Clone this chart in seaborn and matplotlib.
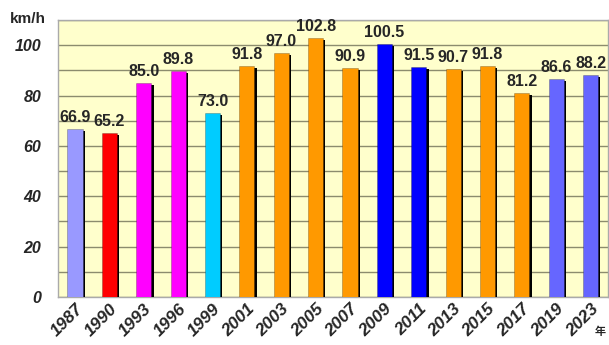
import matplotlib
matplotlib.use("Agg")
import matplotlib.pyplot as plt
import matplotlib.patheffects as pe
import seaborn as sns

years = ["1987", "1990", "1993", "1996", "1999", "2001", "2003", "2005",
         "2007", "2009", "2011", "2013", "2015", "2017", "2019", "2023"]
speeds = [66.9, 65.2, 85.0, 89.8, 73.0, 91.8, 97.0, 102.8,
          90.9, 100.5, 91.5, 90.7, 91.8, 81.2, 86.6, 88.2]
colors = ["#9999FF", "#FF0000", "#FF00FF", "#FF00FF", "#00CCFF", "#FF9900",
          "#FF9900", "#FF9900", "#FF9900", "#0000FF", "#0000FF", "#FF9900",
          "#FF9900", "#FF9900", "#6666FF", "#6666FF"]

sns.set_style("white")
plt.rcParams['font.family'] = ['Liberation Sans', 'Noto Sans CJK JP', 'DejaVu Sans']

fig = plt.figure(figsize=(6.09, 3.45), dpi=100)
ax = fig.add_axes([0.095, 0.139, 0.903, 0.803])
ax.set_facecolor("#FFFFCC")

sns.barplot(x=years, y=speeds, hue=years, palette=colors, legend=False,
            saturation=1, width=0.44, ax=ax, zorder=3)

for bar, v in zip(ax.patches, speeds):
    bar.set_edgecolor((0, 0, 0, 0.25))
    bar.set_linewidth(0.6)
    bar.set_path_effects([pe.SimplePatchShadow(offset=(1.6, -1.6), shadow_rgbFace="black", alpha=1),
                          pe.Normal()])
    ax.text(bar.get_x() + bar.get_width() / 2, v + 1.6, f"{v:.1f}",
            ha="center", va="bottom", fontsize=11.5, fontweight="bold", zorder=4)

ax.set_ylim(0, 110)
ax.set_xlim(-0.5, len(years) - 0.5)
ax.set_yticks(range(0, 101, 20))
ax.set_yticks(range(0, 111, 10), minor=True)
ax.grid(axis="y", which="both", color="#8C8C6E", linewidth=1, zorder=0)
ax.set_axisbelow(True)
ax.tick_params(axis="both", which="both", length=0)
for lbl in ax.get_yticklabels():
    lbl.set_fontstyle("italic")
    lbl.set_fontweight("bold")
    lbl.set_fontsize(11.5)
ax.set_xticks(range(len(years)))
ax.set_xticklabels(years, rotation=45, ha="right", rotation_mode="anchor",
                   fontstyle="italic", fontweight="bold", fontsize=12.5)
ax.tick_params(axis="x", pad=3)
ax.tick_params(axis="y", pad=12)

for s in ax.spines.values():
    s.set_color("#AAAAAA")
    s.set_linewidth(1)

fig.text(0.016, 0.965, "km/h", fontsize=11, fontweight="bold", va="top")
fig.text(0.985, 0.03, "年", fontsize=8, fontweight="bold", ha="center")

fig.savefig("out.png", dpi=100)
